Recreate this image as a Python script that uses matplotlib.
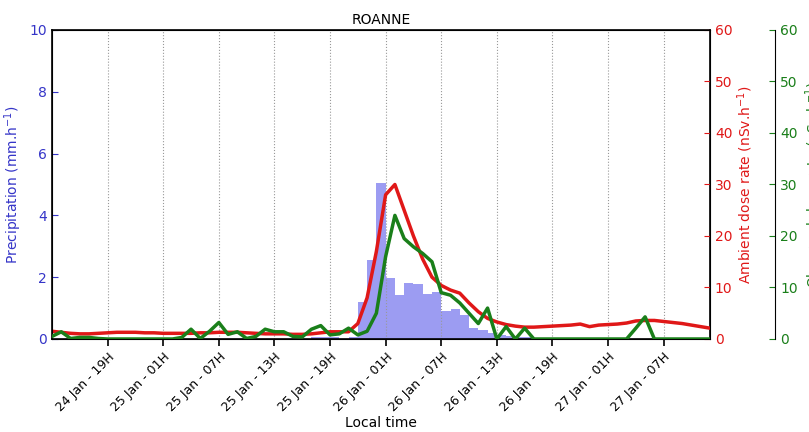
import numpy as np
import matplotlib
matplotlib.use('Agg')
import matplotlib.pyplot as plt

# hours since 24 Jan 13H (local time)
hours = np.arange(72)

# precipitation (mm/h), one bar per hour
precip = [0]*72
precip_vals = {28: 0.05, 29: 0.05, 30: 0.05, 32: 0.07, 33: 1.21, 34: 2.56, 35: 5.04,
               36: 1.96, 37: 1.42, 38: 1.80, 39: 1.77, 40: 1.46, 41: 1.51, 42: 0.92,
               43: 0.96, 44: 0.78, 45: 0.35, 46: 0.28, 47: 0.20, 48: 0.13, 49: 0.10,
               50: 0.08, 51: 0.05}
for h, v in precip_vals.items():
    precip[h] = v

# ambient dose rate (nSv/h)
ambient = [1.5, 1.3, 1.1, 1.0, 1.0, 1.1, 1.2, 1.3, 1.3, 1.3, 1.2, 1.2, 1.1, 1.1, 1.1, 1.1,
           1.2, 1.2, 1.3, 1.3, 1.3, 1.2, 1.1, 1.0, 1.0, 1.0, 0.9, 0.9, 1.0, 1.2, 1.4, 1.4,
           1.4, 3.0, 8.0, 17.0, 28.0, 30.0, 25.0, 20.0, 15.5, 12.0, 10.4, 9.5, 8.9, 7.0,
           5.3, 4.0, 3.3, 2.8, 2.5, 2.3, 2.3, 2.4, 2.5, 2.6, 2.7, 2.9, 2.4, 2.7, 2.8, 2.9,
           3.1, 3.5, 3.6, 3.6, 3.4, 3.2, 3.0, 2.7, 2.4, 2.1]

# observed dose rate (nSv/h)
observed = [0.5, 1.4, 0.1, 0.3, 0.3, 0.1, 0, 0, 0, 0, 0, 0, 0, 0, 0.3, 1.9,
            0.1, 1.5, 3.2, 0.9, 1.4, 0.1, 0.5, 1.9, 1.4, 1.4, 0.5, 0.4, 1.9, 2.6, 0.8, 1.0,
            2.1, 0.8, 1.5, 5.0, 16.0, 24.0, 19.5, 17.9, 16.6, 15.0, 9.0, 8.5, 7.0, 5.0,
            3.0, 6.0, 0, 2.4, 0, 2.1, 0, 0, 0, 0, 0, 0, 0, 0, 0, 0,
            0, 2.1, 4.3, 0, 0, 0, 0, 0, 0, 0]

tick_hours = [6, 12, 18, 24, 30, 36, 42, 48, 54, 60, 66]
tick_labels = ['24 Jan - 19H', '25 Jan - 01H', '25 Jan - 07H', '25 Jan - 13H', '25 Jan - 19H',
               '26 Jan - 01H', '26 Jan - 07H', '26 Jan - 13H', '26 Jan - 19H', '27 Jan - 01H',
               '27 Jan - 07H']

blue = '#3535c8'
red = '#e01818'
green = '#1a7f1a'

fig = plt.figure(figsize=(8.09, 4.32), dpi=100)
ax = fig.add_axes([0.0643, 0.2153, 0.8133, 0.7153])

ax.bar(hours, precip, width=1.0, align='edge', color='#9c9cf2', edgecolor='none')
ax.set_xlim(0, 71)
ax.set_ylim(0, 10)
ax.set_ylabel('Precipitation (mm.h$^{-1}$)', color=blue, fontsize=10)
ax.tick_params(axis='y', colors=blue, direction='in', length=4, labelsize=10)
ax.tick_params(axis='x', direction='out', length=5, width=1.2, labelsize=9, top=False)
ax.set_xticks(tick_hours)
ax.set_xticklabels(tick_labels, rotation=45, ha='right', rotation_mode='anchor')
ax.xaxis.grid(True, linestyle=':', color='#999999', linewidth=0.8)
ax.set_xlabel('Local time', fontsize=10, labelpad=1)
ax.set_title('ROANNE', fontsize=10, pad=4)
for s in ax.spines.values():
    s.set_linewidth(1.2)

ax2 = ax.twinx()
ax2.plot(hours, ambient, color=red, linewidth=2.5)
ax2.set_ylim(0, 60)
ax2.set_ylabel('Ambient dose rate (nSv.h$^{-1}$)', color=red, fontsize=10, labelpad=2)
ax2.tick_params(axis='y', colors=red, direction='in', length=4, labelsize=10)

ax3 = ax.twinx()
ax3.plot(hours, observed, color=green, linewidth=2.5)
ax3.set_ylim(0, 60)
ax3.spines['right'].set_position(('axes', 1.099))
for side in ['left', 'top', 'bottom']:
    ax3.spines[side].set_visible(False)
ax3.set_ylabel('Observed dose rate (nSv.h$^{-1}$)', color=green, fontsize=10)
ax3.tick_params(axis='y', colors=green, direction='in', length=4, labelsize=10)
ax3.spines['right'].set_color('black')
ax2.spines['right'].set_color('black')

fig.savefig('out.png', dpi=100)
